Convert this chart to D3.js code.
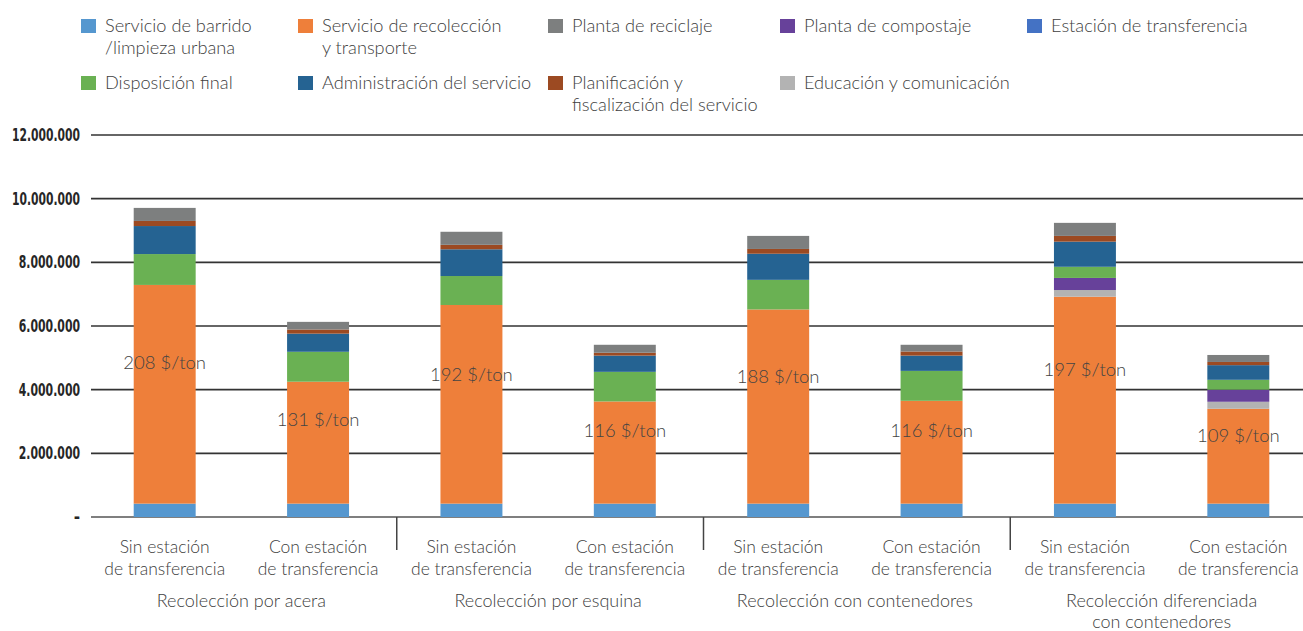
<!DOCTYPE html>
<html>
<head>
<meta charset="utf-8">
<script src="https://cdn.jsdelivr.net/npm/d3@7"></script>
<style>
  body { margin: 0; background: #fff; }
  svg text { font-family: Lato, "Open Sans", sans-serif; font-weight: 300; fill: #404040; }
  .yaxis text { font-family: "DejaVu Sans Condensed", "Liberation Sans Narrow", sans-serif; font-weight: bold; fill: #262626; }
</style>
</head>
<body>
<svg width="1303" height="631"></svg>
<script>
var svg = d3.select("svg");
var width = +svg.attr("width");

// categories (bars) and their groups
var bars = ["Sin estación|de transferencia", "Con estación|de transferencia",
            "Sin estación|de transferencia", "Con estación|de transferencia",
            "Sin estación|de transferencia", "Con estación|de transferencia",
            "Sin estación|de transferencia", "Con estación|de transferencia"];
var groups = ["Recolección por acera", "Recolección por esquina",
              "Recolección con contenedores", "Recolección diferenciada|con contenedores"];
var costPerTon = ["208 $/ton", "131 $/ton", "192 $/ton", "116 $/ton",
                  "188 $/ton", "116 $/ton", "197 $/ton", "109 $/ton"];

// series values ($), bottom to top of stack
var barrido        = [420000, 420000, 420000, 420000, 420000, 420000, 420000, 420000];
var recoleccion    = [6870000, 3830000, 6240000, 3210000, 6100000, 3230000, 6500000, 2980000];
var educacion      = [0, 0, 0, 0, 0, 0, 210000, 220000];
var compostaje     = [0, 0, 0, 0, 0, 0, 380000, 380000];
var estacion       = [0, 0, 0, 0, 0, 0, 0, 0];
var disposicion    = [970000, 940000, 910000, 930000, 930000, 940000, 350000, 310000];
var administracion = [880000, 570000, 840000, 510000, 820000, 480000, 790000, 460000];
var planificacion  = [160000, 130000, 140000, 90000, 150000, 130000, 180000, 100000];
var reciclaje      = [410000, 240000, 410000, 250000, 410000, 210000, 410000, 220000];

var yTicks = [0, 2000000, 4000000, 6000000, 8000000, 10000000, 12000000];

var series = [
  {key: "barrido", name: "Servicio de barrido|/limpieza urbana", values: barrido, color: "#5597cf"},
  {key: "recoleccion", name: "Servicio de recolección|y transporte", values: recoleccion, color: "#ee7f3a"},
  {key: "educacion", name: "Educación y comunicación", values: educacion, color: "#b3b3b3"},
  {key: "compostaje", name: "Planta de compostaje", values: compostaje, color: "#67419a"},
  {key: "estacion", name: "Estación de transferencia", values: estacion, color: "#4472c4"},
  {key: "disposicion", name: "Disposición final", values: disposicion, color: "#6ab153"},
  {key: "administracion", name: "Administración del servicio", values: administracion, color: "#256392"},
  {key: "planificacion", name: "Planificación y|fiscalización del servicio", values: planificacion, color: "#9c4a22"},
  {key: "reciclaje", name: "Planta de reciclaje", values: reciclaje, color: "#7d7f7f"}
];
var legendOrder = ["barrido", "recoleccion", "reciclaje", "compostaje", "estacion",
                   "disposicion", "administracion", "planificacion", "educacion"];

var rows = bars.map(function(b, i) {
  var r = {id: i};
  series.forEach(function(s) { r[s.key] = s.values[i]; });
  return r;
});

var x = d3.scaleBand().domain(d3.range(bars.length)).range([88, 1315])
    .paddingInner(0.596).paddingOuter(0.298);
var y = d3.scaleLinear().domain([0, 12000000]).range([517, 135]);

var locale = d3.formatLocale({decimal: ",", thousands: ".", grouping: [3], currency: ["$", ""]});
var fmt = locale.format(",.0f");

// gridlines + y axis
var yAxis = svg.append("g").attr("class", "yaxis").attr("transform", "translate(91,0)")
  .call(d3.axisLeft(y).tickValues(yTicks).tickSize(0).tickPadding(11)
    .tickFormat(function(d) { return d === 0 ? "-" : fmt(d); }));
yAxis.select(".domain").remove();
yAxis.selectAll("text").attr("font-size", 17)
  .attr("textLength", function(d) { return d === 0 ? null : fmt(d).length * 6.8; })
  .attr("lengthAdjust", "spacingAndGlyphs");

svg.append("g").selectAll("line").data(yTicks).enter().append("line")
  .attr("x1", 91).attr("x2", width)
  .attr("y1", function(d) { return y(d); }).attr("y2", function(d) { return y(d); })
  .attr("stroke", function(d) { return d === 0 ? "#555" : "#333"; })
  .attr("stroke-width", 1.6);

// stacked bars
var stack = d3.stack().keys(series.map(function(s) { return s.key; }));
var stacked = stack(rows);
svg.append("g").selectAll("g").data(stacked).enter().append("g")
  .attr("fill", function(d, i) { return series[i].color; })
  .selectAll("rect").data(function(d) { return d; }).enter().append("rect")
  .attr("x", function(d, i) { return x(i); })
  .attr("width", x.bandwidth())
  .attr("y", function(d) { return y(d[1]); })
  .attr("height", function(d) { return y(d[0]) - y(d[1]); });

// cost per ton labels at half of total
svg.append("g").selectAll("text").data(rows).enter().append("text")
  .attr("x", function(d, i) { return x(i) + x.bandwidth() / 2; })
  .attr("y", function(d, i) {
    var total = d3.sum(series, function(s) { return s.values[i]; });
    return y(total / 2);
  })
  .attr("text-anchor", "middle").attr("dy", "0.35em")
  .attr("font-size", 18.5).style("fill", "#444")
  .text(function(d, i) { return costPerTon[i]; });

// category labels
var catG = svg.append("g");
bars.forEach(function(b, i) {
  var t = catG.append("text").attr("text-anchor", "middle")
    .attr("x", x(i) + x.bandwidth() / 2).attr("y", 553).attr("font-size", 17.5);
  b.split("|").forEach(function(line, j) {
    t.append("tspan").attr("x", x(i) + x.bandwidth() / 2).attr("dy", j ? 22 : 0).text(line);
  });
});

// group separators & labels
var step = x.step();
d3.range(1, groups.length).forEach(function(g) {
  var sx = x(g * 2) - step * x.paddingInner() / 2 + 2;
  svg.append("line").attr("x1", sx).attr("x2", sx).attr("y1", 517).attr("y2", 550)
    .attr("stroke", "#444").attr("stroke-width", 1.5);
});
groups.forEach(function(g, gi) {
  var cx = (x(gi * 2) + x(gi * 2 + 1) + x.bandwidth()) / 2;
  var t = svg.append("text").attr("text-anchor", "middle").attr("x", cx).attr("y", 607)
    .attr("font-size", 18);
  g.split("|").forEach(function(line, j) {
    t.append("tspan").attr("x", cx).attr("dy", j ? 21 : 0).text(line);
  });
});

// legend
var legX = [81, 298, 548, 780, 1027];
var legY = [19, 76];
var legend = svg.append("g");
legendOrder.forEach(function(k, i) {
  var s = series.find(function(d) { return d.key === k; });
  var col = i < 5 ? i : i - 5, row = i < 5 ? 0 : 1;
  var gx = legX[col], gy = legY[row];
  legend.append("rect").attr("x", gx).attr("y", gy).attr("width", 15).attr("height", 14)
    .attr("fill", s.color);
  var t = legend.append("text").attr("x", gx + 24).attr("y", gy + 13).attr("font-size", 18.2);
  s.name.split("|").forEach(function(line, j) {
    t.append("tspan").attr("x", gx + 24).attr("dy", j ? 22 : 0).text(line);
  });
});
</script>
</body>
</html>
